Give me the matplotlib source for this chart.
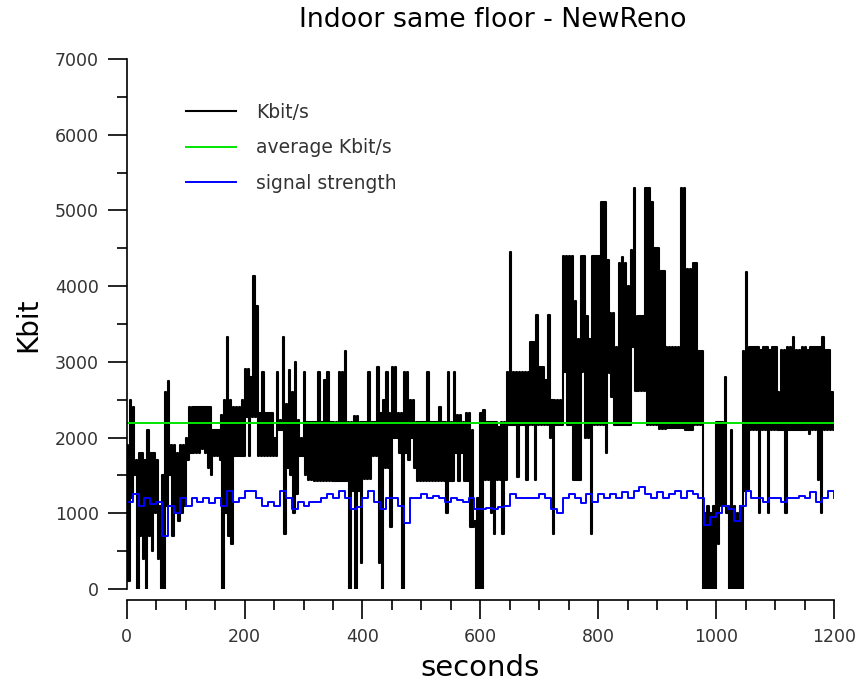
import numpy as np
import matplotlib
matplotlib.use("Agg")
import matplotlib.pyplot as plt
from matplotlib.ticker import MultipleLocator

# throughput in 5 second bins:
# upper and lower edge of the trace inside each bin (Kbit)
kbit_hi = [
    # 0 - 95 s
    1900, 2500, 2400, 1700, 1800, 1800, 1700, 2100, 1800, 1800,
    1700, 1100, 1500, 2600, 2750, 1900, 1900, 1800, 1900, 1900,
    # 100 - 195 s
    2000, 2400, 2400, 2400, 2400, 2400, 2400, 2400, 2400, 2100,
    2100, 2100, 2300, 2500, 3330, 2500, 2400, 2400, 2400, 2500,
    # 200 - 295 s
    2900, 2900, 2800, 4130, 3740, 2330, 2870, 2330, 2330, 2330,
    2000, 2870, 2230, 3330, 2440, 2890, 2600, 3000, 2230, 2000,
    # 300 - 395 s
    2870, 2200, 2200, 2200, 2200, 2870, 2200, 2760, 2870, 2200,
    2200, 2200, 2870, 2870, 3140, 2200, 2200, 2290, 2290, 2200,
    # 400 - 495 s
    2200, 2200, 2870, 2200, 2200, 2930, 2330, 2500, 2870, 2330,
    2930, 2930, 2330, 2330, 2870, 2870, 2500, 2500, 2200, 2200,
    # 500 - 595 s
    2200, 2200, 2870, 2200, 2200, 2200, 2400, 2200, 2200, 2870,
    2200, 2870, 2300, 2300, 2200, 2330, 2330, 2100, 900, 1200,
    # 600 - 695 s
    2330, 2360, 2200, 2200, 2200, 2200, 2140, 2200, 2200, 2870,
    4450, 2870, 2870, 2870, 2870, 2870, 2870, 3260, 3260, 3620,
    # 700 - 795 s
    2930, 2930, 2760, 3620, 2500, 2500, 2500, 2500, 4400, 4400,
    4400, 4400, 3800, 3300, 4400, 4400, 3600, 3300, 4400, 4400,
    # 800 - 895 s
    4400, 5110, 5110, 4340, 3640, 3640, 3200, 4300, 4380, 4300,
    4000, 4480, 5300, 3600, 3600, 3600, 5300, 5300, 5110, 4500,
    # 900 - 995 s
    4500, 4200, 4200, 3200, 3200, 3200, 3200, 3200, 5300, 5300,
    4220, 4220, 4300, 4300, 3140, 3140, 1000, 1100, 1000, 1100,
    # 1000 - 1095 s
    2200, 2200, 2200, 2800, 1100, 2100, 1100, 1000, 1100, 3140,
    4190, 3200, 3200, 3200, 3200, 3150, 3200, 3200, 3150, 3200,
    # 1100 - 1195 s
    3200, 2600, 3150, 3150, 3200, 3200, 3330, 3150, 3150, 3200,
    3200, 3150, 3200, 3200, 3200, 3200, 3330, 3150, 3150, 2600,
]

kbit_lo = [
    # 0 - 95 s
    100, 1200, 1500, 0, 700, 400, 0, 700, 500, 1000,
    400, 0, 0, 1100, 1500, 700, 1000, 900, 1000, 1100,
    # 100 - 195 s
    1700, 1800, 1800, 1800, 1800, 1850, 1800, 1600, 1500, 1750,
    1750, 1700, 0, 1000, 700, 600, 1750, 1750, 1750, 1750,
    # 200 - 295 s
    2270, 1750, 2270, 2270, 1750, 1750, 1750, 1750, 1750, 1750,
    1750, 2100, 2100, 730, 1600, 1500, 1000, 1260, 1750, 1750,
    # 300 - 395 s
    1500, 1440, 1440, 1420, 1420, 1420, 1420, 1420, 1420, 1420,
    1420, 1420, 1420, 1420, 1420, 0, 1300, 0, 1300, 340,
    # 400 - 495 s
    1450, 1450, 1450, 1750, 1750, 340, 0, 1600, 1600, 820,
    2000, 2000, 1800, 0, 1800, 1700, 2000, 1600, 1420, 1420,
    # 500 - 595 s
    1420, 1420, 1420, 1420, 1420, 1420, 1420, 1420, 1000, 1420,
    1420, 1800, 1420, 1800, 1420, 1420, 820, 820, 0, 0,
    # 600 - 695 s
    0, 1440, 1440, 1000, 730, 1440, 1440, 730, 1440, 2160,
    2160, 2160, 1480, 2160, 2160, 1440, 2160, 2160, 1440, 2160,
    # 700 - 795 s
    2160, 2160, 2160, 2000, 730, 2160, 2160, 2160, 2870, 2160,
    2160, 1440, 1440, 1440, 2870, 2000, 2000, 730, 2160, 2160,
    # 800 - 895 s
    2160, 2160, 1790, 2850, 2540, 2160, 2160, 2160, 2160, 2160,
    2160, 3200, 2620, 2620, 2620, 2620, 2160, 2160, 2160, 2160,
    # 900 - 995 s
    2110, 2110, 2110, 2130, 2130, 2130, 2130, 2130, 2130, 2100,
    2100, 2100, 2160, 2160, 2160, 0, 0, 0, 0, 0,
    # 1000 - 1095 s
    600, 1100, 1100, 1000, 0, 0, 0, 0, 0, 1300,
    1300, 2100, 2100, 2100, 1000, 2100, 2100, 1000, 2100, 2100,
    # 1100 - 1195 s
    2100, 2100, 2100, 1000, 2100, 2100, 2100, 2100, 2100, 2100,
    2100, 2050, 2100, 2100, 1440, 1000, 2100, 2100, 2100, 2100,
]

# signal strength, one value every 10 seconds
signal = [
    1150, 1250, 1100, 1200, 1120, 1150, 700, 1100, 1000, 1200,
    1100, 1200, 1150, 1200, 1130, 1200, 1100, 1300, 1150, 1200,
    1300, 1300, 1200, 1100, 1150, 1100, 1300, 1200, 1050, 1150,
    1100, 1150, 1150, 1200, 1250, 1200, 1300, 1200, 1050, 1080,
    1200, 1300, 1150, 1050, 1200, 1200, 1100, 870, 1200, 1200,
    1250, 1200, 1230, 1200, 1150, 1200, 1180, 1150, 1200, 1050,
    1050, 1070, 1050, 1080, 1100, 1250, 1200, 1200, 1200, 1200,
    1250, 1200, 1050, 1000, 1200, 1250, 1200, 1130, 1250, 1150,
    1250, 1200, 1250, 1200, 1280, 1200, 1300, 1350, 1250, 1200,
    1280, 1200, 1250, 1300, 1200, 1300, 1250, 1200, 850, 950,
    1000, 1100, 1050, 900, 1100, 1300, 1200, 1200, 1150, 1200,
    1200, 1150, 1200, 1200, 1230, 1200, 1280, 1150, 1200, 1300,
    1200,
]

average = 2190

# trace: top of each bin for its first half, bottom for the second half
t_bin = np.arange(len(kbit_hi)) * 5.0
t_kbit = np.column_stack([t_bin, t_bin + 2.5]).ravel()
kbit = np.column_stack([kbit_hi, kbit_lo]).ravel()
t_kbit = np.append(t_kbit, 1200)
kbit = np.append(kbit, kbit_lo[-1])
t_signal = np.arange(len(signal)) * 10

fig = plt.figure(figsize=(8.62, 6.86), dpi=100)
ax = fig.add_axes([0.147, 0.1414, 0.8205, 0.7726])

ax.plot(t_kbit, kbit, color="black", lw=1.5, drawstyle="steps-post", label="Kbit/s")
ax.plot([0, 1200], [average, average], color="#00e600", lw=1.4, label="average Kbit/s")
ax.plot(t_signal, signal, color="#0000ff", lw=1.4, drawstyle="steps-post", label="signal strength")

ax.set_xlim(0, 1200)
ax.set_ylim(0, 7000)
ax.xaxis.set_major_locator(MultipleLocator(200))
ax.xaxis.set_minor_locator(MultipleLocator(50))
ax.yaxis.set_major_locator(MultipleLocator(1000))
ax.yaxis.set_minor_locator(MultipleLocator(500))

for s in ["top", "right"]:
    ax.spines[s].set_visible(False)
ax.spines["bottom"].set_position(("outward", 8))
ax.spines["left"].set_bounds(0, 7000)
ax.spines["bottom"].set_bounds(0, 1200)
for s in ["left", "bottom"]:
    ax.spines[s].set_linewidth(1.2)
ax.tick_params(which="major", direction="out", length=14, width=1.2,
               labelsize=12.5, colors="black", pad=6)
ax.tick_params(which="minor", direction="out", length=7, width=1.2)
for lab in ax.get_xticklabels() + ax.get_yticklabels():
    lab.set_color("#333333")

leg = ax.legend(loc="upper left", bbox_to_anchor=(0.071, 0.935), frameon=False, borderpad=0,
                fontsize=13.5, handlelength=2.67, handletextpad=1.05, labelspacing=0.88)
for txt in leg.get_texts():
    txt.set_color("#333333")

fig.text(0.572, 0.971, "Indoor same floor - NewReno", ha="center", va="center", fontsize=19.3)
fig.text(0.0325, 0.526, "Kbit", ha="center", va="center", rotation=90, fontsize=20)
fig.text(0.557, 0.026, "seconds", ha="center", va="center", fontsize=21)

fig.savefig("out.png", dpi=100)
